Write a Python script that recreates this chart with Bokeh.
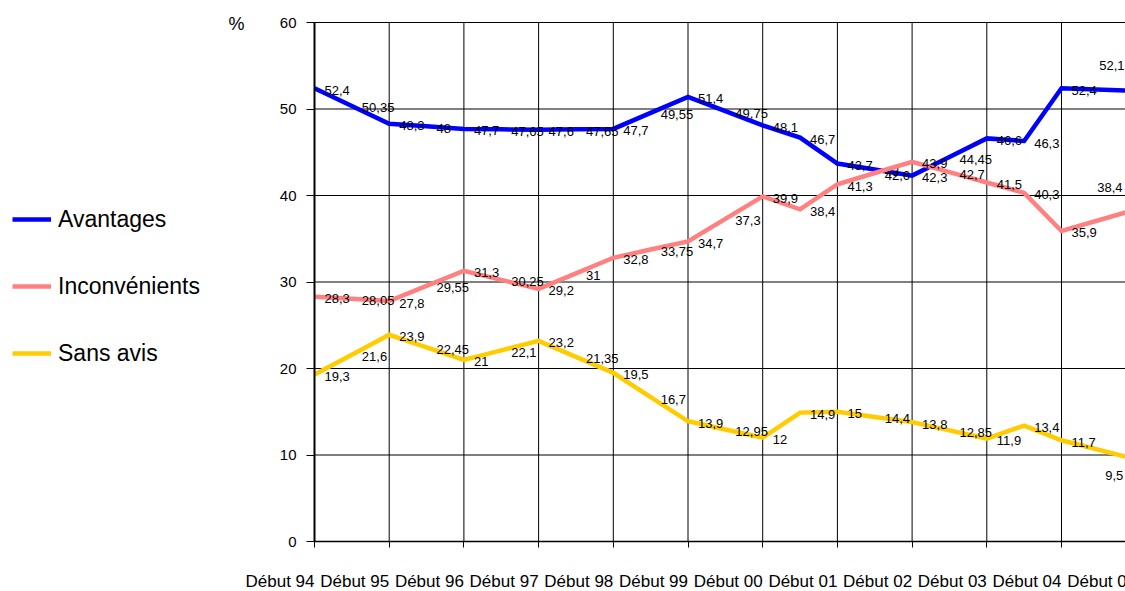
from bokeh.plotting import figure
from bokeh.models import (Range1d, FixedTicker, Legend, LegendItem, Label,
                          ColumnDataSource)
from bokeh.embed import file_html
from bokeh.resources import INLINE
from bokeh.core.properties import value

# ---------------- data ----------------
periods = [1994, 1994.5, 1995, 1995.5, 1996, 1996.5, 1997, 1997.5, 1998, 1998.5,
           1999, 1999.5, 2000, 2000.5, 2001, 2001.5, 2002, 2002.5, 2003, 2003.5,
           2004, 2005]
avantages = [52.4, 50.35, 48.3, 48, 47.7, 47.65, 47.6, 47.65, 47.7, 49.55,
             51.4, 49.75, 48.1, 46.7, 43.7, 43, 42.3, 44.45, 46.6, 46.3,
             52.4, 52.1]
inconvenients = [28.3, 28.05, 27.8, 29.55, 31.3, 30.25, 29.2, 31, 32.8, 33.75,
                 34.7, 37.3, 39.9, 38.4, 41.3, 42.6, 43.9, 42.7, 41.5, 40.3,
                 35.9, 38.4]
sans_avis = [19.3, 21.6, 23.9, 22.45, 21, 22.1, 23.2, 21.35, 19.5, 16.7,
             13.9, 12.95, 12, 14.9, 15, 14.4, 13.8, 12.85, 11.9, 13.4,
             11.7, 9.5]
series_names = ["Avantages", "Inconvénients", "Sans avis"]
series_colors = ["#0000FF", "#FF8080", "#FFCC00"]
years = list(range(1994, 2006))
year_labels = ["Début 94", "Début 95", "Début 96", "Début 97", "Début 98",
               "Début 99", "Début 00", "Début 01", "Début 02", "Début 03",
               "Début 04", "Début 05"]
y_ticks = [0, 10, 20, 30, 40, 50, 60]

FONT = "Liberation Sans"

# ---------------- layout constants (pixels) ----------------
W, H = 1125, 591
X0_PX, YEAR_PX = 314, 74.7          # x pixel of first year, pixels per year
Y0_PX, YTOP_PX = 541, 22            # pixel of value 0 and value 60
PX_PER_UNIT = (Y0_PX - YTOP_PX) / 60.0

x_start = years[0] - X0_PX / YEAR_PX
x_end = years[0] + (W - X0_PX) / YEAR_PX
y_start = -(H - Y0_PX) / PX_PER_UNIT
y_end = 60 + YTOP_PX / PX_PER_UNIT

p = figure(width=W, height=H, output_backend="svg", toolbar_location=None,
           x_range=Range1d(x_start, x_end), y_range=Range1d(y_start, y_end),
           min_border_left=0, min_border_right=0, min_border_top=0,
           min_border_bottom=0)
p.outline_line_color = None
p.background_fill_color = "white"
p.border_fill_color = "white"
p.grid.visible = False

# grid lines limited to the plot area
y_lo, y_hi = y_ticks[0], y_ticks[-1]
p.segment(x0=years, y0=[y_lo] * len(years), x1=years, y1=[y_hi] * len(years),
          line_color="black", line_width=1)
p.segment(x0=[years[0]] * len(y_ticks), y0=y_ticks, x1=[years[-1]] * len(y_ticks),
          y1=y_ticks, line_color="black", line_width=1)

# axes placed at fixed data locations
p.yaxis.fixed_location = years[0]
p.yaxis.bounds = (y_lo, y_hi)
p.yaxis.ticker = FixedTicker(ticks=y_ticks)
p.yaxis.major_label_text_font = FONT
p.yaxis.major_label_text_font_size = "15px"
p.yaxis.major_label_text_color = "black"
p.yaxis.major_tick_out = 8
p.yaxis.major_tick_in = 0
p.yaxis.minor_tick_line_color = None
p.yaxis.major_label_standoff = 10
p.yaxis.axis_line_width = 2
p.yaxis.axis_line_color = "black"
p.yaxis.major_tick_line_color = "black"

X_LABEL_SIZE = "17px"
p.xaxis.fixed_location = y_lo
p.xaxis.bounds = (years[0], years[-1])
p.xaxis.ticker = FixedTicker(ticks=years)
p.xaxis.major_label_overrides = {y: lab for y, lab in zip(years, year_labels)}
p.xaxis.major_label_orientation = 0.0001
p.xaxis.major_label_text_font = FONT
p.xaxis.major_label_text_font_size = X_LABEL_SIZE
p.xaxis.major_label_text_color = "black"
p.xaxis.major_label_standoff = 34
p.xaxis.major_tick_out = 6
p.xaxis.major_tick_in = 0
p.xaxis.minor_tick_line_color = None
p.xaxis.axis_line_color = "black"
p.xaxis.axis_line_width = 1.5
p.xaxis.major_tick_line_color = "black"

# the last category label lies past the visible range: draw it as a label
p.add_layout(Label(x=years[-1], y=y_lo, x_offset=0, y_offset=-40,
                   text=year_labels[-1], text_font=FONT,
                   text_font_size=X_LABEL_SIZE, text_color="black",
                   text_align="right", text_baseline="middle"))

# lines + data labels
items = []
all_series = [avantages, inconvenients, sans_avis]
last_offsets = [(-37, -25), (-39, -22), (-31, 16)]
for vals, name, col, (lx, ly) in zip(all_series, series_names, series_colors, last_offsets):
    r = p.line(periods, vals, line_color=col, line_width=4.5, line_join="miter")
    items.append(LegendItem(label=name, renderers=[r]))
    n = len(vals)
    dx = [10] * (n - 1) + [lx]
    dy = [2] * (n - 1) + [ly]
    txt = [f"{v:g}".replace(".", ",") for v in vals]
    src = ColumnDataSource(dict(x=periods, y=vals, t=txt, dx=dx, dy=dy))
    p.text(x="x", y="y", text="t", x_offset="dx", y_offset="dy", source=src,
           text_font=value(FONT), text_font_size="13px", text_color="black",
           text_align="left", text_baseline="middle")

# % label
p.add_layout(Label(x=years[0], y=y_hi, x_offset=-86, y_offset=-1, text="%",
                   text_font=FONT, text_font_size="18px", text_color="black",
                   text_align="left", text_baseline="middle"))

legend = Legend(items=items, location=(12, 223), orientation="vertical",
                label_text_font=FONT, label_text_font_size="23px",
                label_text_color="black", glyph_width=39, glyph_height=30,
                label_height=30, label_standoff=7, spacing=37, padding=0,
                margin=0, border_line_color=None, background_fill_alpha=0)
p.add_layout(legend)

open("out.html", "w").write(file_html(p, INLINE))
